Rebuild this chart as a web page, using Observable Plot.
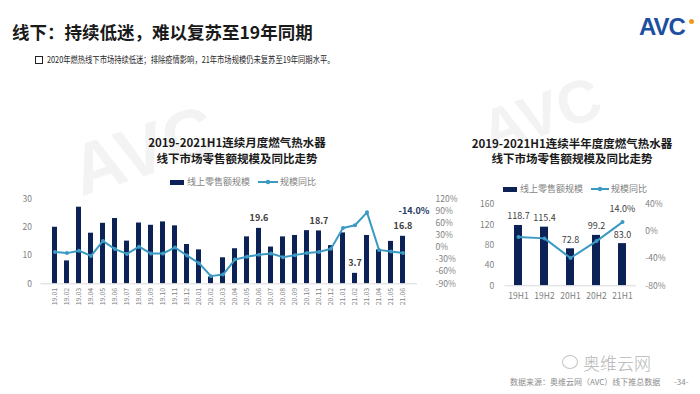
<!DOCTYPE html>
<html><head><meta charset="utf-8">
<script src="https://cdn.jsdelivr.net/npm/d3@7"></script>
<script src="https://cdn.jsdelivr.net/npm/@observablehq/plot@0.6"></script>
<style>
html,body{margin:0;padding:0;background:#fff;}
body{width:700px;height:394px;position:relative;overflow:hidden;font-family:"Noto Sans CJK SC","Noto Sans",sans-serif;}
.abs{position:absolute;white-space:nowrap;}
#title{left:12px;top:19px;font-size:17.5px;font-weight:700;color:#1a1a1a;line-height:26px;}
#sub{left:47px;top:53px;font-size:9px;color:#262626;line-height:14px;transform:scaleX(0.81);transform-origin:0 50%;}
#bullet{left:35px;top:56px;width:6px;height:6px;border:1.5px solid #222;}
#logo{left:639px;top:13px;font-size:24px;font-weight:900;color:#1d4fa0;font-family:"Liberation Sans",sans-serif;letter-spacing:-1px;line-height:28px;}
#logodot{left:689px;top:19px;width:5px;height:5px;border-radius:50%;background:#f39a1e;}
.ct{font-size:11.5px;font-weight:700;color:#1a1a1a;text-align:center;line-height:13px;}
.leg{font-size:9px;color:#7f7f7f;line-height:12px;display:flex;align-items:center;}
.foot{font-size:8px;color:#8c8c8c;line-height:10px;}
#wx{left:583px;top:352px;font-size:17px;color:#b5b5b5;line-height:22px;font-weight:300;}
#wxicon{left:562px;top:355px;width:14px;height:12px;border:1.2px solid #c4c4c4;border-radius:50%;}
.wm{color:#f3f3f3;font-weight:900;font-family:"Liberation Sans",sans-serif;}
</style></head>
<body>
<div class="abs wm" style="left:70px;top:110px;font-size:72px;line-height:80px;transform:rotate(-18deg);">AVC</div>
<div class="abs wm" style="left:480px;top:80px;font-size:60px;line-height:70px;transform:rotate(-18deg);">AVC</div>

<div id="title" class="abs">线下：持续低迷，难以复苏至19年同期</div>
<div id="bullet" class="abs"></div>
<div id="sub" class="abs">2020年燃热线下市场持续低迷；排除疫情影响，21年市场规模仍未复苏至19年同期水平。</div>
<div id="logo" class="abs">AVC</div>
<div id="logodot" class="abs"></div>

<div class="abs ct" style="left:137px;top:136px;width:200px;">2019-2021H1连续月度燃气热水器</div>
<div class="abs ct" style="left:137px;top:152px;width:200px;">线下市场零售额规模及同比走势</div>
<div class="abs ct" style="left:462px;top:137px;width:220px;">2019-2021H1连续半年度度燃气热水器</div>
<div class="abs ct" style="left:462px;top:152px;width:220px;">线下市场零售额规模及同比走势</div>

<div class="abs leg" style="left:170px;top:176px;"><span style="display:inline-block;width:14px;height:5px;background:#0c2155;margin-right:3px;"></span>线上零售额规模<svg width="20" height="8" style="margin:0 2px 0 8px"><line x1="0" y1="4" x2="20" y2="4" stroke="#3b9ac4" stroke-width="2"/><circle cx="10" cy="4" r="2.2" fill="#3b9ac4"/></svg>规模同比</div>
<div class="abs leg" style="left:503px;top:183px;"><span style="display:inline-block;width:14px;height:5px;background:#0c2155;margin-right:3px;"></span>线上零售额规模<svg width="18" height="8" style="margin:0 2px 0 8px"><line x1="0" y1="4" x2="18" y2="4" stroke="#3b9ac4" stroke-width="2"/><circle cx="9" cy="4" r="2.2" fill="#3b9ac4"/></svg>规模同比</div>

<div id="left" class="abs" style="left:0px;top:190px;"></div>
<div id="right" class="abs" style="left:460px;top:195px;"></div>

<div id="wxicon" class="abs"></div>
<div id="wx" class="abs">奥维云网</div>
<div class="abs foot" style="left:510px;top:377px;">数据来源：奥维云网（AVC）线下推总数据</div>
<div class="abs foot" style="left:674px;top:377px;">-34-</div>

<script>
// ---- data: monthly ----
const months = ["19.01","19.02","19.03","19.04","19.05","19.06","19.07","19.08","19.09","19.10","19.11","19.12",
  "20.01","20.02","20.03","20.04","20.05","20.06","20.07","20.08","20.09","20.10","20.11","20.12",
  "21.01","21.02","21.03","21.04","21.05","21.06"];
const monthSales = [20.0, 8.1, 27.1, 17.9, 21.4, 23.1, 15.1, 21.5, 20.7, 21.9, 20.5, 13.9,
  12.0, 2.4, 9.2, 12.4, 16.6, 19.6, 13.0, 16.6, 17.1, 18.8, 18.7, 13.5,
  18.0, 3.7, 17.1, 12.0, 15.0, 16.8];
const monthYoy = [-11, -14, -8, -21, 16, -4, -16, 2, -15, -15, 0, -20,
  -39, -71, -67, -30, -23, -18, -15, -24, -19, -14, -11, -3,
  48, 55, 87, -6, -10, -14];
const monthLabeled = ["20.06","20.11","21.02","21.06"];
const monthSalesTicks = [0, 10, 20, 30];
const monthYoyTicks = [-90, -60, -30, 0, 30, 60, 90, 120];

// ---- data: half-year ----
const halves = ["19H1","19H2","20H1","20H2","21H1"];
const halfSales = [118.7, 115.4, 72.8, 99.2, 83.0];
const halfYoy = [-8, -10, -39, -14, 14];
const halfSalesTicks = [0, 40, 80, 120, 160];
const halfYoyTicks = [-80, -40, 0, 40];

const NAVY = "#0c2155", BLUE = "#3b9ac4", GRAY = "#7f7f7f";
const FONT = "'Noto Sans CJK SC','Noto Sans',sans-serif";

// left chart
const mRows = months.map((m, i) => ({m, s: monthSales[i], p: monthYoy[i]}));
const toL = p => (p + 90) / 210 * 30;
const fromL = v => Math.round(v * 210 / 30 - 90);
const left = Plot.plot({
  width: 470, height: 120,
  marginTop: 8.5, marginBottom: 26.7, marginLeft: 40.4, marginRight: 53,
  style: {fontFamily: FONT, fontSize: "8.5px", color: GRAY, background: "transparent", overflow: "visible"},
  x: {type: "band", domain: months, paddingInner: 0.6, paddingOuter: 0.3, label: null},
  y: {domain: [0, 30], label: null},
  marks: [
    Plot.axisY({ticks: monthSalesTicks, tickSize: 0, tickPadding: 9, label: null, fill: GRAY}),
    Plot.axisY({anchor: "right", ticks: monthYoyTicks.map(toL), tickFormat: d => fromL(d) + "%", tickSize: 0, tickPadding: 18, label: null, fill: GRAY}),
    Plot.axisX({tickRotate: -90, tickSize: 0, tickPadding: 4, fontSize: 7, label: null, fill: GRAY}),
    Plot.barY(mRows, {x: "m", y: "s", fill: NAVY}),
    Plot.ruleY([0], {stroke: "#d9d9d9"}),
    Plot.line(mRows, {x: "m", y: d => toL(d.p), stroke: BLUE, strokeWidth: 2}),
    Plot.dot(mRows, {x: "m", y: d => toL(d.p), r: 2, fill: BLUE}),
    Plot.text(mRows.filter(d => monthLabeled.includes(d.m)), {x: "m", y: "s", text: d => d.s.toFixed(1), dy: -10, fontWeight: "bold", fontSize: 9, fill: "#404040"}),
    Plot.text(mRows.filter(d => d.m === "21.06"), {x: "m", y: "s", text: d => d.p.toFixed(1) + "%", dy: -25, dx: 11, fontWeight: "bold", fontSize: 9, fill: "#1f3864"})
  ]
});
document.getElementById("left").append(left);

// right chart
const hRows = halves.map((h, i) => ({h, s: halfSales[i], p: halfYoy[i]}));
const toR = p => (p + 80) / 120 * 160;
const fromR = v => Math.round(v * 120 / 160 - 80);
const right = Plot.plot({
  width: 240, height: 110,
  marginTop: 9, marginBottom: 19.7, marginLeft: 44.6, marginRight: 64.2,
  style: {fontFamily: FONT, fontSize: "8.5px", color: GRAY, background: "transparent", overflow: "visible"},
  x: {type: "band", domain: halves, paddingInner: 0.7, paddingOuter: 0.35, label: null},
  y: {domain: [0, 160], label: null},
  marks: [
    Plot.axisY({ticks: halfSalesTicks, tickSize: 0, tickPadding: 11, label: null, fill: GRAY}),
    Plot.axisY({anchor: "right", ticks: halfYoyTicks.map(toR), tickFormat: d => fromR(d) + "%", tickSize: 0, tickPadding: 9, label: null, fill: GRAY}),
    Plot.axisX({tickSize: 0, tickPadding: 7, label: null, fill: GRAY}),
    Plot.barY(hRows, {x: "h", y: "s", fill: NAVY}),
    Plot.ruleY([0], {stroke: "#d9d9d9"}),
    Plot.line(hRows, {x: "h", y: d => toR(d.p), stroke: BLUE, strokeWidth: 2}),
    Plot.dot(hRows, {x: "h", y: d => toR(d.p), r: 2, fill: BLUE}),
    Plot.text(hRows, {x: "h", y: "s", text: d => d.s.toFixed(1), dy: -9, fontSize: 9, fill: "#404040"}),
    Plot.text(hRows.filter(d => d.h === "21H1"), {x: "h", y: d => toR(d.p), text: d => d.p.toFixed(1) + "%", dy: -13, fontSize: 9, fill: "#404040"})
  ]
});
document.getElementById("right").append(right);
</script>
</body></html>
